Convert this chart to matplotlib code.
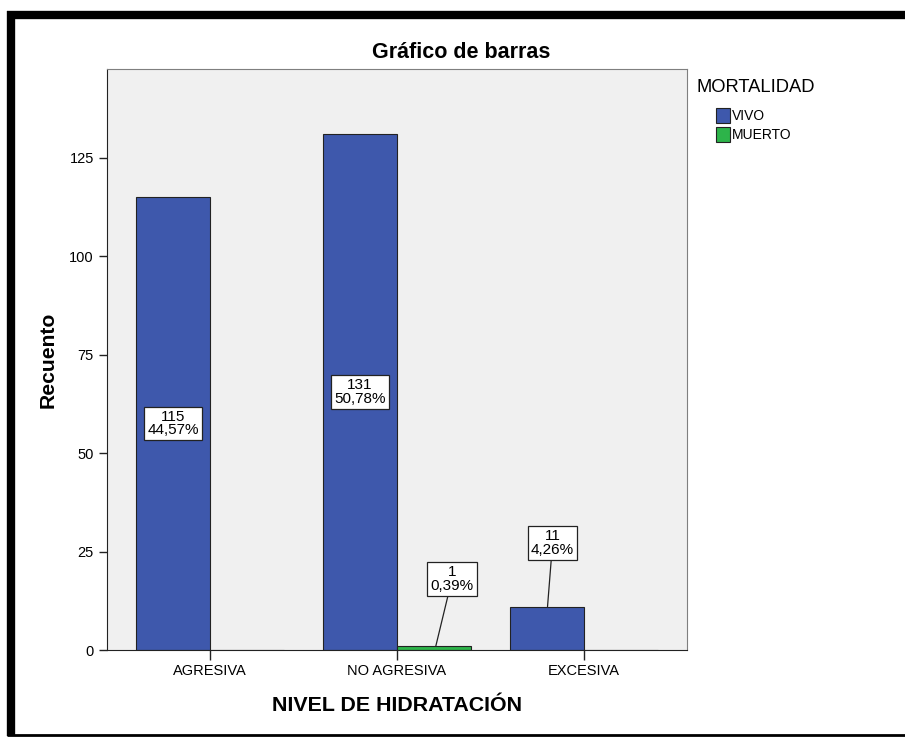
import numpy as np
import matplotlib
matplotlib.use('Agg')
import matplotlib.pyplot as plt
from matplotlib.lines import Line2D

plt.rcParams['font.family'] = ['Liberation Sans', 'DejaVu Sans']

# data
categorias = ['AGRESIVA', 'NO AGRESIVA', 'EXCESIVA']
series = ['VIVO', 'MUERTO']
vivo = [115, 131, 11]
muerto = [0, 1, 0]
pct_vivo = ['44,57%', '50,78%', '4,26%']
pct_muerto = ['', '0,39%', '']
colores = ['#3E58AC', '#2DB44A']

fig = plt.figure(figsize=(9.05, 7.37), dpi=100)
ax = fig.add_axes([107/905, 87/737, 580/905, 581/737])
ax.set_facecolor('#F0F0F0')

x = np.arange(len(categorias))
w = 0.396
b1 = ax.bar(x - w/2, vivo, w, color=colores[0], edgecolor='#222222', lw=0.8, label=series[0])
b2 = ax.bar(x + w/2, muerto, w, color=colores[1], edgecolor='#222222', lw=0.8, label=series[1])

ax.set_xlim(-0.551, 2.551)
ax.set_ylim(0, 147.6)
ax.set_yticks([0, 25, 50, 75, 100, 125])
ax.set_xticks(x)
ax.set_xticklabels(categorias)
ax.tick_params(axis='both', direction='out', length=6, width=1, labelsize=10.5, color='#222222')
ax.tick_params(axis='x', length=7, pad=3)
for s in ['top', 'right']:
    ax.spines[s].set_color('#7F7F7F')
for s in ['left', 'bottom']:
    ax.spines[s].set_color('#222222')

# titulo centrado sobre todo el grafico
fig.text(461/905, 1 - 52/737, 'Gráfico de barras', ha='center', va='center',
         fontsize=15.5, fontweight='bold')
ax.set_ylabel('Recuento', fontsize=15.2, fontweight='bold', labelpad=8)
ax.set_xlabel('NIVEL DE HIDRATACIÓN', fontsize=15.4, fontweight='bold', labelpad=13)

box = dict(boxstyle='square,pad=0.2', fc='white', ec='#222222', lw=0.9)

def etiqueta(xc, h, pct, dx=0.0, dy=None):
    txt = f'{h}\n{pct}'
    if dy is None:
        ax.text(xc, h / 2, txt, ha='center', va='center', fontsize=11,
                linespacing=0.95, bbox=box)
    else:
        ax.annotate(txt, xy=(xc + dx * 0.1, h), xytext=(xc + dx, h + dy),
                    ha='center', va='center', fontsize=11, linespacing=0.95,
                    bbox=box,
                    arrowprops=dict(arrowstyle='-', color='#222222', lw=0.9,
                                    shrinkA=0, shrinkB=0))

for i in range(len(categorias)):
    if vivo[i] > 50:
        etiqueta(x[i] - w/2, vivo[i], pct_vivo[i])
    elif vivo[i] > 0:
        etiqueta(x[i] - w/2, vivo[i], pct_vivo[i], dx=0.03, dy=16.2)
    if muerto[i] > 0:
        etiqueta(x[i] + w/2, muerto[i], pct_muerto[i], dx=0.096, dy=17)

# leyenda
fig.text(697/905, 1 - 88/737, 'MORTALIDAD', ha='left', va='center', fontsize=13.2)
fig.legend(handles=[b1, b2], labels=series,
           loc='upper left', bbox_to_anchor=(716/905, 1 - 108/737),
           frameon=False, fontsize=10, borderpad=0, borderaxespad=0,
           handlelength=1.0, handleheight=1.28, handletextpad=0.15,
           labelspacing=0.28)

# marco negro
fig.add_artist(Line2D([7/905, 905/905], [1 - 15/737, 1 - 15/737], color='black', lw=6,
                      transform=fig.transFigure, solid_capstyle='butt'))
fig.add_artist(Line2D([11/905, 11/905], [1 - 11/737, 1 - 736/737], color='black', lw=6,
                      transform=fig.transFigure, solid_capstyle='butt'))
fig.add_artist(Line2D([7/905, 905/905], [1 - 734.5/737, 1 - 734.5/737], color='black', lw=2,
                      transform=fig.transFigure, solid_capstyle='butt'))

fig.savefig('out.png', dpi=100)
